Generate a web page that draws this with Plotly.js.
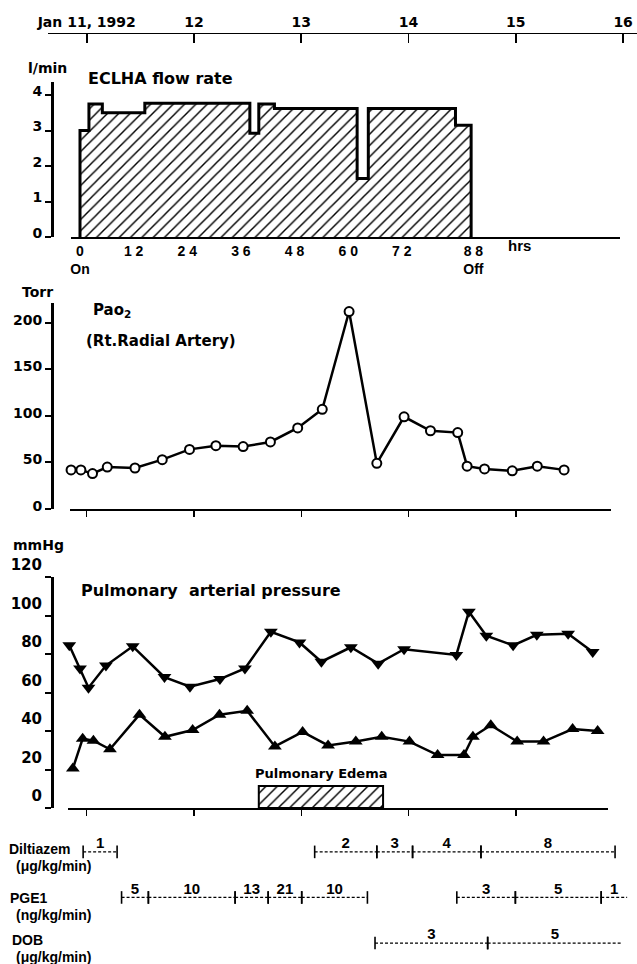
<!DOCTYPE html>
<html>
<head>
<meta charset="utf-8">
<script src="https://cdn.plot.ly/plotly-3.0.1.min.js"></script>
<style>html,body{margin:0;padding:0;background:#fff;}#chart{width:637px;height:964px;}</style>
</head>
<body>
<div id="chart"></div>
<script>
// ---------------- DATA (x values are hours since ECLHA start) ----------------
const dayTickHours = [1.5, 25.5, 49.5, 73.5, 97.5, 121.5];
const dayTickLabels = ['Jan 11, 1992', '12', '13', '14', '15', '16'];

const hourTicks = [0, 12, 24, 36, 48, 60, 72, 88];
const hourTickText = ['0<br>On', '1 2', '2 4', '3 6', '4 8', '6 0', '7 2', '8 8<br>Off'];

// ECLHA flow rate (l/min), step changes
const flowHours = [0, 0, 2, 5, 14.5, 38, 40, 43.5, 62, 64.5, 84, 87.5];
const flowRate  = [0, 3.0, 3.75, 3.5, 3.77, 2.92, 3.75, 3.62, 1.65, 3.62, 3.15, 0];

// PaO2 (Torr)
const paoHours  = [-2.0, 0.2, 2.8, 6.1, 12.3, 18.4, 24.5, 30.4, 36.5, 42.6, 48.7, 54.2, 60.2, 66.4, 72.5, 78.4, 84.5, 86.6, 90.5, 96.7, 102.3, 108.3];
const paoValues = [42, 42, 38, 45, 44, 53, 64, 68, 67, 72, 87, 107, 212, 49, 99, 84, 82, 46, 43, 41, 46, 42];

// Pulmonary arterial pressure (mmHg)
const papHighHours = [-2.4, 0, 1.9, 5.8, 11.8, 18.9, 24.6, 31.3, 36.9, 42.7, 49.1, 54.0, 60.6, 66.7, 72.5, 84.2, 87.0, 90.9, 96.9, 102.2, 109.2, 114.7];
const papHigh      = [84.5, 72.5, 62.5, 74, 84, 68, 63, 67, 72.5, 91.5, 86, 76, 83.5, 75, 82.5, 79.5, 102, 89.5, 84.5, 90, 90.5, 81];
const papLowHours  = [-1.6, 0.6, 3.0, 6.7, 13.3, 19.0, 25.2, 31.2, 37.4, 43.6, 49.8, 55.5, 61.7, 67.5, 73.7, 80.0, 85.9, 87.9, 91.9, 97.8, 103.7, 110.2, 115.8];
const papLow       = [20.5, 36, 35, 30.5, 48.5, 37, 40.5, 48.5, 50.5, 32, 39.5, 32.5, 34.5, 37, 34.5, 27.5, 27.5, 37, 43, 34.5, 34.5, 41, 40];

// Pulmonary edema period
const edemaStart = 40;
const edemaEnd = 67.8;

// Drugs
const drugNames   = ['Diltiazem', 'PGE1', 'DOB'];
const drugUnits   = ['(\u03bcg/kg/min)', '(ng/kg/min)', '(\u03bcg/kg/min)'];
const drugOngoing = [false, true, true];
const diltStart = [0.7, 52.5, 66.4, 74.4, 89.7];
const diltEnd   = [8.3, 66.4, 74.4, 89.7, 119.7];
const diltDose  = ['1', '2', '3', '4', '8'];
const pge1Start = [9.3, 15.3, 34.7, 42.1, 49.6, 84.3, 97.4, 116.6];
const pge1End   = [15.3, 34.7, 42.1, 49.6, 64.3, 97.4, 116.6, 122.4];
const pge1Dose  = ['5', '10', '13', '21', '10', '3', '5', '1'];
const dobStart  = [66, 91.2];
const dobEnd    = [91.2, 121.3];
const dobDose   = ['3', '5'];

// ---------------- LAYOUT HELPERS ----------------
const W = 637, H = 964;
const hx0 = 80, pxPerHour = 4.47;
function xr(a, b) { return { domain: [a / W, b / W], range: [(a - hx0) / pxPerHour, (b - hx0) / pxPerHour] }; }
function yd(top, bottom) { return [1 - bottom / H, 1 - top / H]; }
const DJ = 'DejaVu Sans';
const LS = 'Liberation Sans, Arial';
function f(size, fam) { return { family: fam || DJ, size: size, color: 'black', weight: 'bold' }; }
function ann(text, xpx, ypx, font, xanchor) {
  return { text: text, x: xpx / W, y: 1 - ypx / H, xref: 'paper', yref: 'paper',
           xanchor: xanchor || 'left', yanchor: 'middle', showarrow: false, font: font };
}

// ---------------- TRACES ----------------
const traces = [];

traces.push({
  type: 'scatter', x: flowHours, y: flowRate, xaxis: 'x', yaxis: 'y',
  mode: 'lines', line: { shape: 'hv', color: 'black', width: 3 },
  fill: 'tozeroy', fillcolor: 'white',
  fillpattern: { shape: '/', fgcolor: 'black', bgcolor: 'white', size: 8, solidity: 0.18 },
  hoverinfo: 'skip'
});

traces.push({
  type: 'scatter', x: paoHours, y: paoValues, xaxis: 'x2', yaxis: 'y2',
  mode: 'lines+markers', line: { color: 'black', width: 2.5 },
  marker: { symbol: 'circle', size: 9, color: 'white', line: { color: 'black', width: 2 } },
  cliponaxis: false, hoverinfo: 'skip'
});

traces.push({
  type: 'scatter', x: papHighHours, y: papHigh, xaxis: 'x3', yaxis: 'y3',
  mode: 'lines+markers', line: { color: 'black', width: 2.5 },
  marker: { symbol: 'triangle-down', size: 12, color: 'black' },
  cliponaxis: false, hoverinfo: 'skip'
});
traces.push({
  type: 'scatter', x: papLowHours, y: papLow, xaxis: 'x3', yaxis: 'y3',
  mode: 'lines+markers', line: { color: 'black', width: 2.5 },
  marker: { symbol: 'triangle-up', size: 12, color: 'black' },
  cliponaxis: false, hoverinfo: 'skip'
});

const edemaHeight = 11.4;
traces.push({
  type: 'bar', x: [(edemaStart + edemaEnd) / 2], y: [edemaHeight], base: 0,
  width: [edemaEnd - edemaStart], xaxis: 'x3', yaxis: 'y3',
  marker: { color: 'white', line: { color: 'black', width: 2 },
            pattern: { shape: '/', fgcolor: 'black', bgcolor: 'white', size: 8, solidity: 0.18 } },
  hoverinfo: 'skip'
});

const drugSegs = [[diltStart, diltEnd, diltDose], [pge1Start, pge1End, pge1Dose], [dobStart, dobEnd, dobDose]];
drugSegs.forEach(function (d, i) {
  const name = drugNames[i];
  const st = d[0], en = d[1], dose = d[2];
  const lx = [], ly = [], mx = [], my = [], tx = [], ty = [];
  for (let k = 0; k < st.length; k++) {
    lx.push(st[k], en[k], null); ly.push(name, name, null);
    mx.push(st[k]); my.push(name);
    const last = (k === st.length - 1);
    if (!(last && drugOngoing[i])) { mx.push(en[k]); my.push(name); }
    tx.push((st[k] + en[k]) / 2); ty.push(name);
  }
  traces.push({ type: 'scatter', x: lx, y: ly, xaxis: 'x4', yaxis: 'y4', mode: 'lines',
                line: { color: 'black', width: 1.3, dash: '3px,2px' }, hoverinfo: 'skip' });
  traces.push({ type: 'scatter', x: mx, y: my, xaxis: 'x4', yaxis: 'y4', mode: 'markers',
                marker: { symbol: 'line-ns', size: 9, line: { color: 'black', width: 1.6 } },
                cliponaxis: false, hoverinfo: 'skip' });
  traces.push({ type: 'scatter', x: tx, y: ty, xaxis: 'x4', yaxis: 'y4', mode: 'text',
                text: dose, textposition: 'top center', textfont: f(15, LS),
                cliponaxis: false, hoverinfo: 'skip' });
});

// dummy trace to create the top date axis
traces.push({ type: 'scatter', x: [dayTickHours[0]], y: [0], xaxis: 'x5', yaxis: 'y5',
              mode: 'lines', hoverinfo: 'skip' });

// ---------------- LAYOUT ----------------
const baseAx = { showgrid: false, zeroline: false, color: 'black', linecolor: 'black', tickcolor: 'black' };

const layout = {
  width: W, height: H, margin: { l: 0, r: 0, t: 0, b: 0 },
  paper_bgcolor: 'white', plot_bgcolor: 'white', showlegend: false, hovermode: false,
  xaxis: Object.assign({}, baseAx, xr(71, 620), {
    anchor: 'y', showline: true, linewidth: 2.2, ticks: '',
    tickmode: 'array', tickvals: hourTicks, ticktext: hourTickText, tickfont: f(14, LS)
  }),
  yaxis: Object.assign({}, baseAx, {
    domain: yd(82, 237), range: [0, (237 - 82) / 35.5], anchor: 'free', position: 52 / W,
    showline: true, linewidth: 2.5, ticks: 'outside', ticklen: 6, tickwidth: 2,
    tickmode: 'array', tickvals: [0, 1, 2, 3, 4], tickfont: f(14), ticklabelshift: -4
  }),
  xaxis2: Object.assign({}, baseAx, xr(70, 611), {
    anchor: 'y2', showline: true, linewidth: 2.2, ticks: 'outside', ticklen: 6, tickwidth: 1.5,
    tickmode: 'array', tickvals: dayTickHours, showticklabels: false
  }),
  yaxis2: Object.assign({}, baseAx, {
    domain: yd(303, 509), range: [0, 206 / 0.9315], anchor: 'free', position: 52 / W,
    showline: true, linewidth: 2.5, ticks: 'outside', ticklen: 6, tickwidth: 2,
    tickmode: 'array', tickvals: [0, 50, 100, 150, 200], tickfont: f(14), ticklabelshift: -3
  }),
  xaxis3: Object.assign({}, baseAx, xr(68, 608), {
    anchor: 'y3', showline: true, linewidth: 2.2, ticks: 'outside', ticklen: 6, tickwidth: 1.5,
    tickmode: 'array', tickvals: dayTickHours, showticklabels: false
  }),
  yaxis3: Object.assign({}, baseAx, {
    domain: yd(577, 808), range: [0, 120], anchor: 'free', position: 52 / W,
    showline: true, linewidth: 2.5, ticks: 'outside', ticklen: 6, tickwidth: 2,
    tickmode: 'array', tickvals: [0, 20, 40, 60, 80, 100, 120], tickfont: f(15), ticklabelshift: -12
  }),
  xaxis4: Object.assign({}, baseAx, { domain: [0, 1], range: [(0 - hx0) / pxPerHour, (W - hx0) / pxPerHour],
    anchor: 'y4', visible: false }),
  yaxis4: Object.assign({}, baseAx, { domain: yd(830, 964), type: 'category',
    categoryorder: 'array', categoryarray: drugNames.slice().reverse(),
    range: [-0.46, 2.48], anchor: 'x4', visible: false }),
  xaxis5: Object.assign({}, baseAx, xr(48, 637), {
    anchor: 'y5', side: 'top', showline: true, linewidth: 1.5, ticks: 'inside', ticklen: 9, tickwidth: 1.8,
    tickmode: 'array', tickvals: dayTickHours, ticktext: dayTickLabels, tickfont: f(14)
  }),
  yaxis5: Object.assign({}, baseAx, { domain: yd(34, 37), range: [-1, 1], anchor: 'x5', visible: false }),
  annotations: [
    ann('l/min', 47, 68, f(14), 'center'),
    ann('Torr', 37, 292, f(14), 'center'),
    ann('mmHg', 38, 545, f(14), 'center'),
    ann('ECLHA flow rate', 86, 78, f(16)),
    ann('Pao<sub>2</sub>', 91, 311, f(15)),
    ann('(Rt.Radial Artery)', 84, 341, f(15)),
    ann('Pulmonary\u00a0 arterial pressure', 79, 590, f(16)),
    ann('hrs', 519, 245, f(15, LS), 'center'),
    ann(drugNames[0], 7, 849, f(14, LS)),
    ann(drugUnits[0], 14, 866, f(14, LS)),
    ann(drugNames[1], 8, 898, f(14, LS)),
    ann(drugUnits[1], 14, 915, f(14, LS)),
    ann(drugNames[2], 10, 940, f(14, LS)),
    ann(drugUnits[2], 14, 957, f(14, LS)),
    { text: 'Pulmonary Edema', x: (edemaStart + edemaEnd) / 2, y: edemaHeight, xref: 'x3', yref: 'y3',
      xanchor: 'center', yanchor: 'bottom', yshift: 3, showarrow: false, font: f(13) }
  ]
};

Plotly.newPlot('chart', traces, layout, { displayModeBar: false, staticPlot: true });
</script>
</body>
</html>
